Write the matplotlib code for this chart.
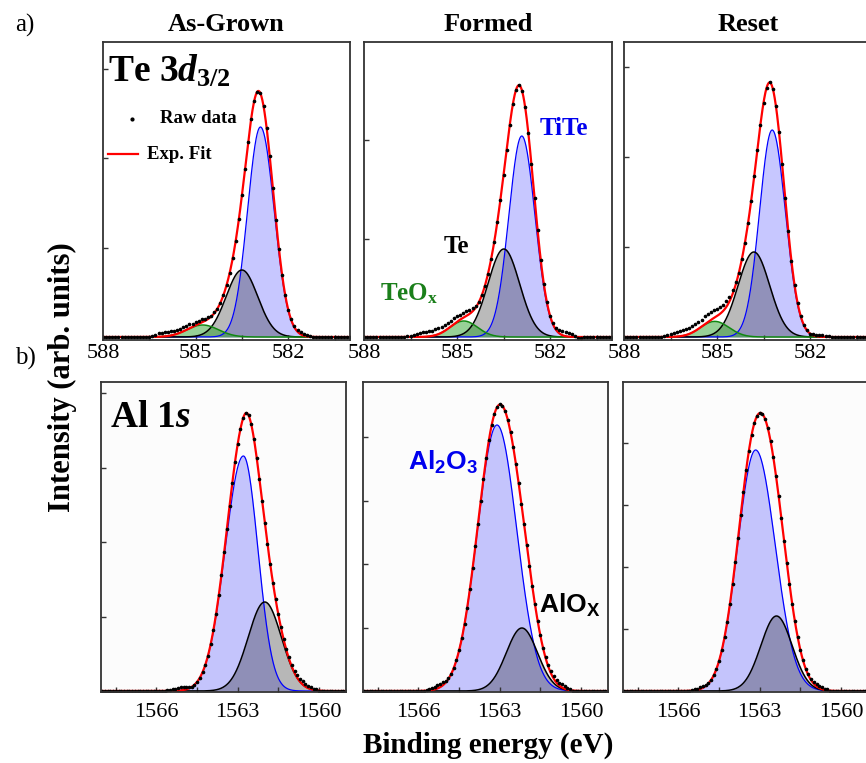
import numpy as np
import matplotlib.pyplot as plt
from matplotlib.ticker import MultipleLocator, NullFormatter

plt.rcParams['font.family'] = 'Liberation Serif'
plt.rcParams['mathtext.fontset'] = 'custom'
plt.rcParams['mathtext.rm'] = 'Liberation Serif:bold'
plt.rcParams['mathtext.it'] = 'Liberation Serif:bold:italic'
plt.rcParams['mathtext.bf'] = 'Liberation Serif:bold'
plt.rcParams['mathtext.sf'] = 'Liberation Sans:bold'

states = ['As-Grown', 'Formed', 'Reset']

# peak components: (centre eV, height, HWHM high-BE side, HWHM low-BE side)
# Te 3d3/2
te_tite = [(582.90, 210, 0.49, 0.52), (582.91, 201, 0.49, 0.50), (583.22, 207, 0.48, 0.50)]
te_te = [(583.50, 67, 0.60, 0.60), (583.49, 88, 0.60, 0.60), (583.81, 85, 0.60, 0.60)]
te_teox = [(584.77, 12, 0.60, 0.60), (584.78, 16, 0.52, 0.52), (585.07, 15.6, 0.54, 0.54)]

# Al 1s
al_al2o3 = [(1562.79, 235, 0.79, 0.63), (1563.10, 266, 0.85, 0.86), (1563.15, 241, 0.78, 0.85)]
al_alox = [(1562.00, 89, 0.72, 0.72), (1562.18, 63, 0.68, 0.68), (1562.38, 75, 0.68, 0.68)]

# raw data offsets from the fit (shoulder 586.8 -> 584.4 eV, tail 581.9 -> 581.0 eV)
te_dev_hi = [
    [0, 0, 0, 0, 1, 2, 4, 4, 4, 4, 4, 4, 4, 4, 4, 4, 4, 3, 3, 3, 3, 2, 2, 1, 1],
    [0, 0, 1, 1, 2, 3, 4, 5, 5, 5, 5, 6, 6, 6, 6, 6, 6, 6, 6, 5, 5, 5, 4, 3, 2],
    [0, 1, 2, 3, 4, 5, 5, 6, 6, 6, 7, 7, 7, 7, 8, 8, 8, 8, 7, 7, 6, 6, 5, 4, 3],
]
te_dev_lo = [
    [1, 1, 2, 2, 2, 1, 1, 0, 0, 0],
    [1, 2, 3, 4, 4, 4, 3, 1, -1, -1],
    [1, 1, 2, 2, 1, 1, 0, 0, 0, 0],
]
# Al raw data offsets (1566.0 -> 1564.8 eV, 1561.6 -> 1559.8 eV)
al_dev_hi = [
    [0, 0, 0, 0, 1, 1, 2, 2, 3, 3, 3, 2, 1],
    [0, 0, 0, 1, 1, 2, 2, 3, 3, 3, 2, 1, 0],
    [0, 0, 0, 0, 0, 1, 1, 1, 2, 2, 1, 1, 0],
]
al_dev_lo = [
    [0, 0, 1, 1, 1, 2, 2, 2, 3, 3, 3, 3, 2, 2, 1, 1, 0, 0, 0],
    [0, 0, 0, 1, 2, 3, 3, 3, 3, 3, 3, 2, 1, 0, 0, 0, 0, 0, 0],
    [0, 0, 0, 0, 1, 1, 2, 2, 2, 2, 1, 1, 0, 0, 0, 0, 0, 0, 0],
]

te_yticks = [89.5, 98.5, 90]
al_yticks = [74.5, 63.5, 62]


def peak(e, c, h, wl, wr):
    w = np.where(e >= c, wl, wr)
    return h * np.exp(-np.log(2) * ((e - c) / w) ** 2)


def add_dev(e, y, start, dev):
    i = int(np.argmin(np.abs(e - start)))
    y[i:i + len(dev)] += np.array(dev, dtype=float)


fig = plt.figure(figsize=(8.66, 7.63), dpi=100)
W, H = 866, 763


def box(x0, y0, x1, y1):
    return fig.add_axes([x0 / W, 1 - y1 / H, (x1 - x0) / W, (y1 - y0) / H])


top_boxes = [(103, 42, 350, 340), (364, 42, 612, 340), (624, 42, 872, 340)]
bot_boxes = [(101, 382, 346, 692), (363, 382, 608, 692), (623, 382, 868, 692)]


def style(ax, pad):
    for s in ax.spines.values():
        s.set_color('#333333')
        s.set_linewidth(1.3)
    ax.xaxis.set_major_locator(MultipleLocator(3))
    ax.xaxis.set_minor_locator(MultipleLocator(1.5))
    ax.tick_params(axis='both', which='both', direction='in', length=3.5, width=1,
                   color='#333333', labelsize=16, pad=pad)
    ax.yaxis.set_major_formatter(NullFormatter())


def draw(ax, x, comps, e_raw, raw):
    fit = np.zeros_like(x)
    for y, col, lw, fc, a in comps:
        ax.fill_between(x, 0, y, color=fc, alpha=a, lw=0)
        fit += y
    for y, col, lw, fc, a in comps:
        ax.plot(x, y, color=col, lw=lw)
    ax.plot(x, fit, color='#ff0000', lw=1.6)
    ax.plot(e_raw, raw, '.', color='black', ms=3.2)


# ---- Te 3d3/2 row ----
x_te = np.linspace(588, 580, 801)
e_te = np.round(np.arange(588.0, 579.95, -0.1), 2)
for k in range(3):
    ax = box(*top_boxes[k])
    comps = [
        (peak(x_te, *te_tite[k]), '#0000ff', 0.9, '#0000ff', 0.22),
        (peak(x_te, *te_te[k]), 'black', 1.1, 'black', 0.27),
        (peak(x_te, *te_teox[k]), '#118811', 1.1, '#1a9a1a', 0.45),
    ]
    raw = (peak(e_te, *te_tite[k]) + peak(e_te, *te_te[k]) + peak(e_te, *te_teox[k]))
    add_dev(e_te, raw, 586.8, te_dev_hi[k])
    add_dev(e_te, raw, 581.9, te_dev_lo[k])
    draw(ax, x_te, comps, e_te, raw)
    ax.set_xlim(588, 580)
    ax.set_ylim(-3, 295)
    ax.yaxis.set_major_locator(MultipleLocator(te_yticks[k]))
    style(ax, 3)
    ax.set_title(states[k], fontsize=19, fontweight='bold', pad=8)
    if k == 0:
        ax.text(0.02, 0.866, r'Te 3$\mathit{d}_{\mathrm{3/2}}$', transform=ax.transAxes,
                fontsize=27, fontweight='bold', va='baseline')
        ax.plot([0.117], [0.742], '.', color='black', ms=4, transform=ax.transAxes)
        ax.text(0.23, 0.742, 'Raw data', transform=ax.transAxes, fontsize=13.5,
                fontweight='bold', va='center')
        ax.plot([0.02, 0.142], [0.624, 0.624], color='#ff0000', lw=1.6, transform=ax.transAxes)
        ax.text(0.178, 0.624, 'Exp. Fit', transform=ax.transAxes, fontsize=13.5,
                fontweight='bold', va='center')
    if k == 1:
        ax.text(0.804, 0.711, 'TiTe', transform=ax.transAxes, fontsize=18,
                fontweight='bold', color='#0000ee', ha='center', va='center')
        ax.text(0.373, 0.315, 'Te', transform=ax.transAxes, fontsize=18,
                fontweight='bold', color='black', ha='center', va='center')
        ax.text(0.065, 0.155, r'TeO$_{\mathrm{x}}$', transform=ax.transAxes, fontsize=18,
                fontweight='bold', color='#1a7f1a', ha='left', va='center')

# ---- Al 1s row ----
x_al = np.linspace(1568.05, 1559.0, 906)
e_al = np.round(np.arange(1568.0, 1558.95, -0.1), 2)
for k in range(3):
    ax = box(*bot_boxes[k])
    comps = [
        (peak(x_al, *al_al2o3[k]), '#0000ff', 0.9, '#0000ff', 0.22),
        (peak(x_al, *al_alox[k]), 'black', 1.1, 'black', 0.27),
    ]
    raw = peak(e_al, *al_al2o3[k]) + peak(e_al, *al_alox[k])
    add_dev(e_al, raw, 1566.0, al_dev_hi[k])
    add_dev(e_al, raw, 1561.6, al_dev_lo[k])
    draw(ax, x_al, comps, e_al, raw)
    ax.set_xlim(1568.05, 1559.0)
    ax.set_ylim(-1, 309)
    ax.yaxis.set_major_locator(MultipleLocator(al_yticks[k]))
    style(ax, 8)
    ax.set_facecolor('#fcfcfc')
    if k == 0:
        ax.text(0.037, 0.855, r'Al 1$\mathit{s}$', transform=ax.transAxes,
                fontsize=27, fontweight='bold', va='baseline')
    if k == 1:
        ax.text(0.184, 0.74, r'$\mathsf{Al_2O_3}$', transform=ax.transAxes, fontsize=19,
                color='#0000ee', ha='left', va='center')
        ax.text(0.718, 0.28, r'$\mathsf{AlO_X}$', transform=ax.transAxes, fontsize=19,
                color='black', ha='left', va='center')

fig.text(25 / W, 1 - 25 / H, 'a)', fontsize=18, ha='center', va='center')
fig.text(25 / W, 1 - 358 / H, 'b)', fontsize=18, ha='center', va='center')
fig.text(62 / W, 1 - 377 / H, 'Intensity (arb. units)', fontsize=22, fontweight='bold',
         rotation=90, ha='center', va='center')
fig.text(488 / W, 1 - 745 / H, 'Binding energy (eV)', fontsize=21, fontweight='bold',
         ha='center', va='center')

fig.savefig('out.png', dpi=100)
